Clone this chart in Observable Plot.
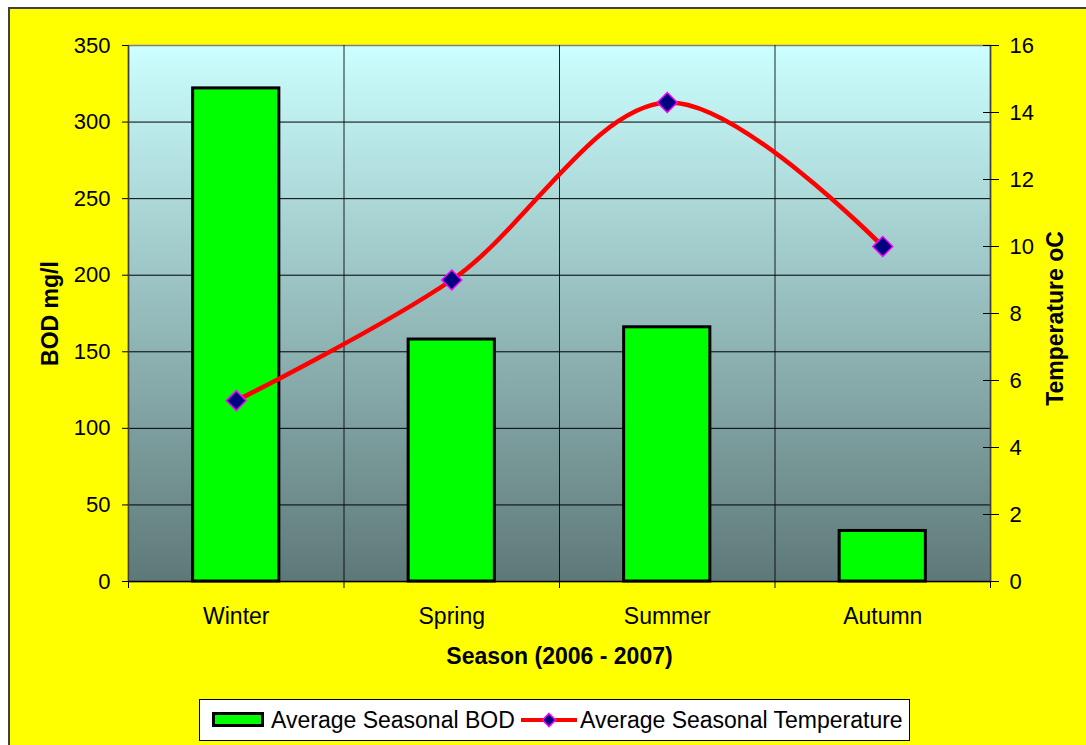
<!DOCTYPE html>
<html>
<head>
<meta charset="utf-8">
<script src="https://cdn.jsdelivr.net/npm/d3@7"></script>
<script src="https://cdn.jsdelivr.net/npm/@observablehq/plot@0.6"></script>
<style>
  body { margin: 0; background: #ffffff; font-family: "Liberation Sans", Arial, sans-serif; }
  #bg { position: absolute; left: 8px; top: 7px; width: 1078px; height: 738px; background: #ffff00;
        border-top: 2px solid #404040; border-left: 2px solid #404040; box-sizing: border-box; }
  #chart { position: absolute; left: 0; top: 0; }
  #legend { position: absolute; left: 199px; top: 699px; width: 711px; height: 42px; background: #ffffff;
            border: 1px solid #000; box-sizing: border-box; font-size: 23px; color: #000; }
  #legend > * { position: absolute; }
  #legend span.t { top: 50%; transform: translateY(-50%); white-space: nowrap; }
</style>
</head>
<body>
<div id="bg"></div>
<div id="chart"></div>
<div id="legend"></div>
<svg width="0" height="0" style="position:absolute">
  <defs>
    <linearGradient id="plotbg" x1="0" y1="0" x2="0" y2="1">
      <stop offset="0" stop-color="#CCFFFF"/>
      <stop offset="1" stop-color="#5E7878"/>
    </linearGradient>
  </defs>
</svg>
<script>
// ---- data ----
const seasons = ["Winter", "Spring", "Summer", "Autumn"];
const bod = [322, 158, 166, 33];
const temperature = [5.4, 9.0, 14.3, 10.0];
const bodTicks = [0, 50, 100, 150, 200, 250, 300, 350];
const tempTicks = [0, 2, 4, 6, 8, 10, 12, 14, 16];
const seriesNames = ["Average Seasonal BOD", "Average Seasonal Temperature"];
const xTitle = "Season (2006 - 2007)";
const yTitle = "BOD mg/l";
const y2Title = "Temperature oC";

const bodMax = bodTicks[bodTicks.length - 1];
const tempMax = tempTicks[tempTicks.length - 1];
const k = bodMax / tempMax; // maps temperature onto the BOD scale

const rows = seasons.map((s, i) => ({season: s, i, bod: bod[i], temp: temperature[i]}));

const font = "Liberation Sans, Arial, sans-serif";

const chart = Plot.plot({
  width: 1086,
  height: 690,
  marginLeft: 128,
  marginRight: 96,
  marginTop: 45,
  marginBottom: 109,
  style: {background: "transparent", fontFamily: font, fontSize: "22px", color: "#000"},
  x: {type: "linear", domain: [0, seasons.length], axis: null},
  y: {domain: [0, bodMax], axis: null},
  marks: [
    Plot.frame({fill: "url(#plotbg)", stroke: "#808080", strokeWidth: 1.5}),
    Plot.ruleY(bodTicks.slice(1, -1), {stroke: "#000", strokeWidth: 1}),
    Plot.ruleX(d3.range(1, seasons.length), {stroke: "#000", strokeWidth: 1, strokeOpacity: 0.85}),
    Plot.rectY(rows, {x1: d => d.i + 0.3, x2: d => d.i + 0.7, y1: 0, y2: "bod",
      fill: "#00FF00", stroke: "#000", strokeWidth: 3}),
    Plot.ruleX([0, seasons.length], {stroke: "#404040", strokeWidth: 1.5}),
    Plot.ruleY([0], {stroke: "#000", strokeWidth: 1.5}),
    Plot.line(rows, {x: d => d.i + 0.5, y: d => d.temp * k, stroke: "#FF0000", strokeWidth: 4.5,
      curve: "catmull-rom"}),
    Plot.dot(rows, {x: d => d.i + 0.5, y: d => d.temp * k, symbol: "diamond2", r: 9,
      fill: "#000080", stroke: "#FF00FF", strokeWidth: 1.5}),
    // left axis
    Plot.axisY({anchor: "left", ticks: bodTicks, tickSize: 6, tickPadding: 12, fontSize: 22,
      label: null, stroke: "#000"}),
    // right axis (temperature)
    Plot.axisY({anchor: "right", ticks: tempTicks.map(t => t * k), tickSize: 16, dx: -8,
      tickPadding: 11, fontSize: 22, label: null, tickFormat: d => String(Math.round(d / k))}),
    // category boundary ticks
    Plot.axisX({anchor: "bottom", ticks: d3.range(0, seasons.length + 1), tickSize: 7,
      tickFormat: () => "", label: null}),
    // category labels
    Plot.axisX({anchor: "bottom", ticks: seasons.map((s, i) => i + 0.5), tickSize: 0, tickPadding: 26,
      fontSize: 23, label: null, tickFormat: d => seasons[Math.floor(d)]}),
    Plot.text([xTitle], {frameAnchor: "bottom", dy: 75, fontWeight: "bold", fontSize: 23,
      lineAnchor: "middle", textAnchor: "middle"}),
    Plot.text([yTitle], {frameAnchor: "left", dx: -78, rotate: -90, fontWeight: "bold", fontSize: 23,
      lineAnchor: "middle", textAnchor: "middle"}),
    Plot.text([y2Title], {frameAnchor: "right", dx: 65, dy: 5, rotate: -90, fontWeight: "bold",
      fontSize: 23, lineAnchor: "middle", textAnchor: "middle"})
  ]
});
document.getElementById("chart").appendChild(chart);

// ---- legend ----
const legend = d3.select("#legend");
legend.append("div")
  .style("left", "12px").style("top", "12px")
  .style("width", "52px").style("height", "15px")
  .style("box-sizing", "border-box")
  .style("background", "#00FF00").style("border", "3px solid #000");
legend.append("span").attr("class", "t").style("left", "71px").text(seriesNames[0]);
const sw = legend.append("svg").attr("width", 56).attr("height", 24)
  .style("left", "321px").style("top", "8px");
sw.append("line").attr("x1", 0).attr("x2", 56).attr("y1", 12).attr("y2", 12)
  .attr("stroke", "#FF0000").attr("stroke-width", 4);
sw.append("path").attr("d", d3.symbol(d3.symbolDiamond2, 110)())
  .attr("transform", "translate(28,12)")
  .attr("fill", "#000080").attr("stroke", "#FF00FF").attr("stroke-width", 1.5);
legend.append("span").attr("class", "t").style("left", "380px").text(seriesNames[1]);
</script>
</body>
</html>
